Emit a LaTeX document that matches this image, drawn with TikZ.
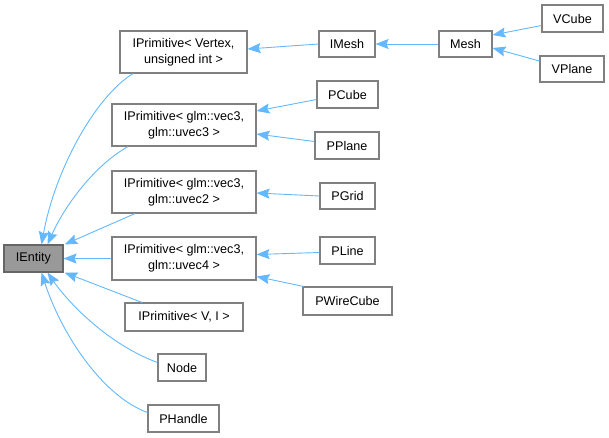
\documentclass[tikz,border=0pt]{standalone}
\usepackage{fontspec}
\setmainfont{Liberation Sans}
\usetikzlibrary{arrows.meta}
\definecolor{edgeblue}{HTML}{63B8FF}
\definecolor{boxline}{HTML}{808080}
\definecolor{rootfill}{HTML}{999999}
\definecolor{rootline}{HTML}{666666}
\begin{document}
\begin{tikzpicture}[x=1pt,y=-1pt,
  cls/.style={draw=boxline, line width=1.1pt, fill=white, inner sep=0pt, align=center,
    font=\fontsize{12.6}{16}\selectfont},
  root/.style={cls, fill=rootfill, draw=rootline},
  edge/.style={draw=edgeblue, line width=0.9pt, -{Stealth[length=13pt,width=10pt,inset=2pt]}}]
\useasboundingbox (0,0) rectangle (609,437);
% nodes: center, size
\node[root, minimum width=59pt, minimum height=27pt] (ient) at (33.5,258.5) {IEntity};
\node[cls, minimum width=127pt, minimum height=42pt] (vtx) at (183.5,52) {IPrimitive< Vertex,\\unsigned int >};
\node[cls, minimum width=56pt, minimum height=26pt] (imesh) at (347,44) {IMesh};
\node[cls, minimum width=53pt, minimum height=26pt] (mesh) at (465.5,44) {Mesh};
\node[cls, minimum width=61pt, minimum height=27pt] (vcube) at (572.5,18.5) {VCube};
\node[cls, minimum width=64pt, minimum height=26pt] (vplane) at (572,69) {VPlane};
\node[cls, minimum width=144pt, minimum height=42pt] (u3) at (184,125) {IPrimitive< glm::vec3,\\glm::uvec3 >};
\node[cls, minimum width=61pt, minimum height=27pt] (pcube) at (347.5,94.5) {PCube};
\node[cls, minimum width=64pt, minimum height=27pt] (pplane) at (347,145.5) {PPlane};
\node[cls, minimum width=144pt, minimum height=42pt] (u2) at (184,192) {IPrimitive< glm::vec3,\\glm::uvec2 >};
\node[cls, minimum width=55pt, minimum height=26pt] (pgrid) at (347.5,196) {PGrid};
\node[cls, minimum width=144pt, minimum height=43pt] (u4) at (184,258.5) {IPrimitive< glm::vec3,\\glm::uvec4 >};
\node[cls, minimum width=55pt, minimum height=27pt] (pline) at (347.5,250.5) {PLine};
\node[cls, minimum width=89pt, minimum height=28pt] (pwire) at (347.5,301) {PWireCube};
\node[cls, minimum width=118pt, minimum height=28pt] (vi) at (184,317) {IPrimitive< V, I >};
\node[cls, minimum width=48pt, minimum height=27pt] (nd) at (182,367.5) {Node};
\node[cls, minimum width=71pt, minimum height=27pt] (ph) at (183.5,418.5) {PHandle};
% edges: child -> parent
\draw[edge] (mesh.west) -- (imesh.east);
\draw[edge] (imesh.west) -- ([yshift=3pt]vtx.east);
\draw[edge] ([yshift=-7pt]vcube.west) -- ([yshift=9pt]mesh.east);
\draw[edge] ([yshift=8pt]vplane.west) -- ([yshift=-4pt]mesh.east);
\draw[edge] ([yshift=-5pt]pcube.west) -- ([yshift=14pt]u3.east);
\draw[edge] ([yshift=4pt]pplane.west) -- ([yshift=-9pt]u3.east);
\draw[edge] (pgrid.west) -- ([yshift=-1pt]u2.east);
\draw[edge] ([yshift=-2pt]pline.west) -- ([yshift=4pt]u4.east);
\draw[edge] ([xshift=-44pt]pwire.north) -- ([yshift=-18pt]u4.east);
\draw[edge] (u4.west) -- (ient.east);
\draw[edge] ([xshift=-49pt]u2.south) -- ([xshift=1pt]ient.north east);
\draw[edge] ([xshift=-42pt]vi.north) -- ([xshift=1pt]ient.south east);
\draw[edge] ([xshift=-50.5pt]vtx.south) .. controls (95,97) and (55,170) .. ([xshift=8pt]ient.north);
\draw[edge] ([xshift=-56pt]u3.south) .. controls (95,165) and (65,205) .. ([xshift=14pt]ient.north);
\draw[edge] ([yshift=5pt]nd.west) .. controls (110,345) and (70,305) .. ([xshift=14pt]ient.south);
\draw[edge] ([yshift=6pt]ph.west) .. controls (100,395) and (60,330) .. ([xshift=8pt]ient.south);
\end{tikzpicture}
\end{document}
